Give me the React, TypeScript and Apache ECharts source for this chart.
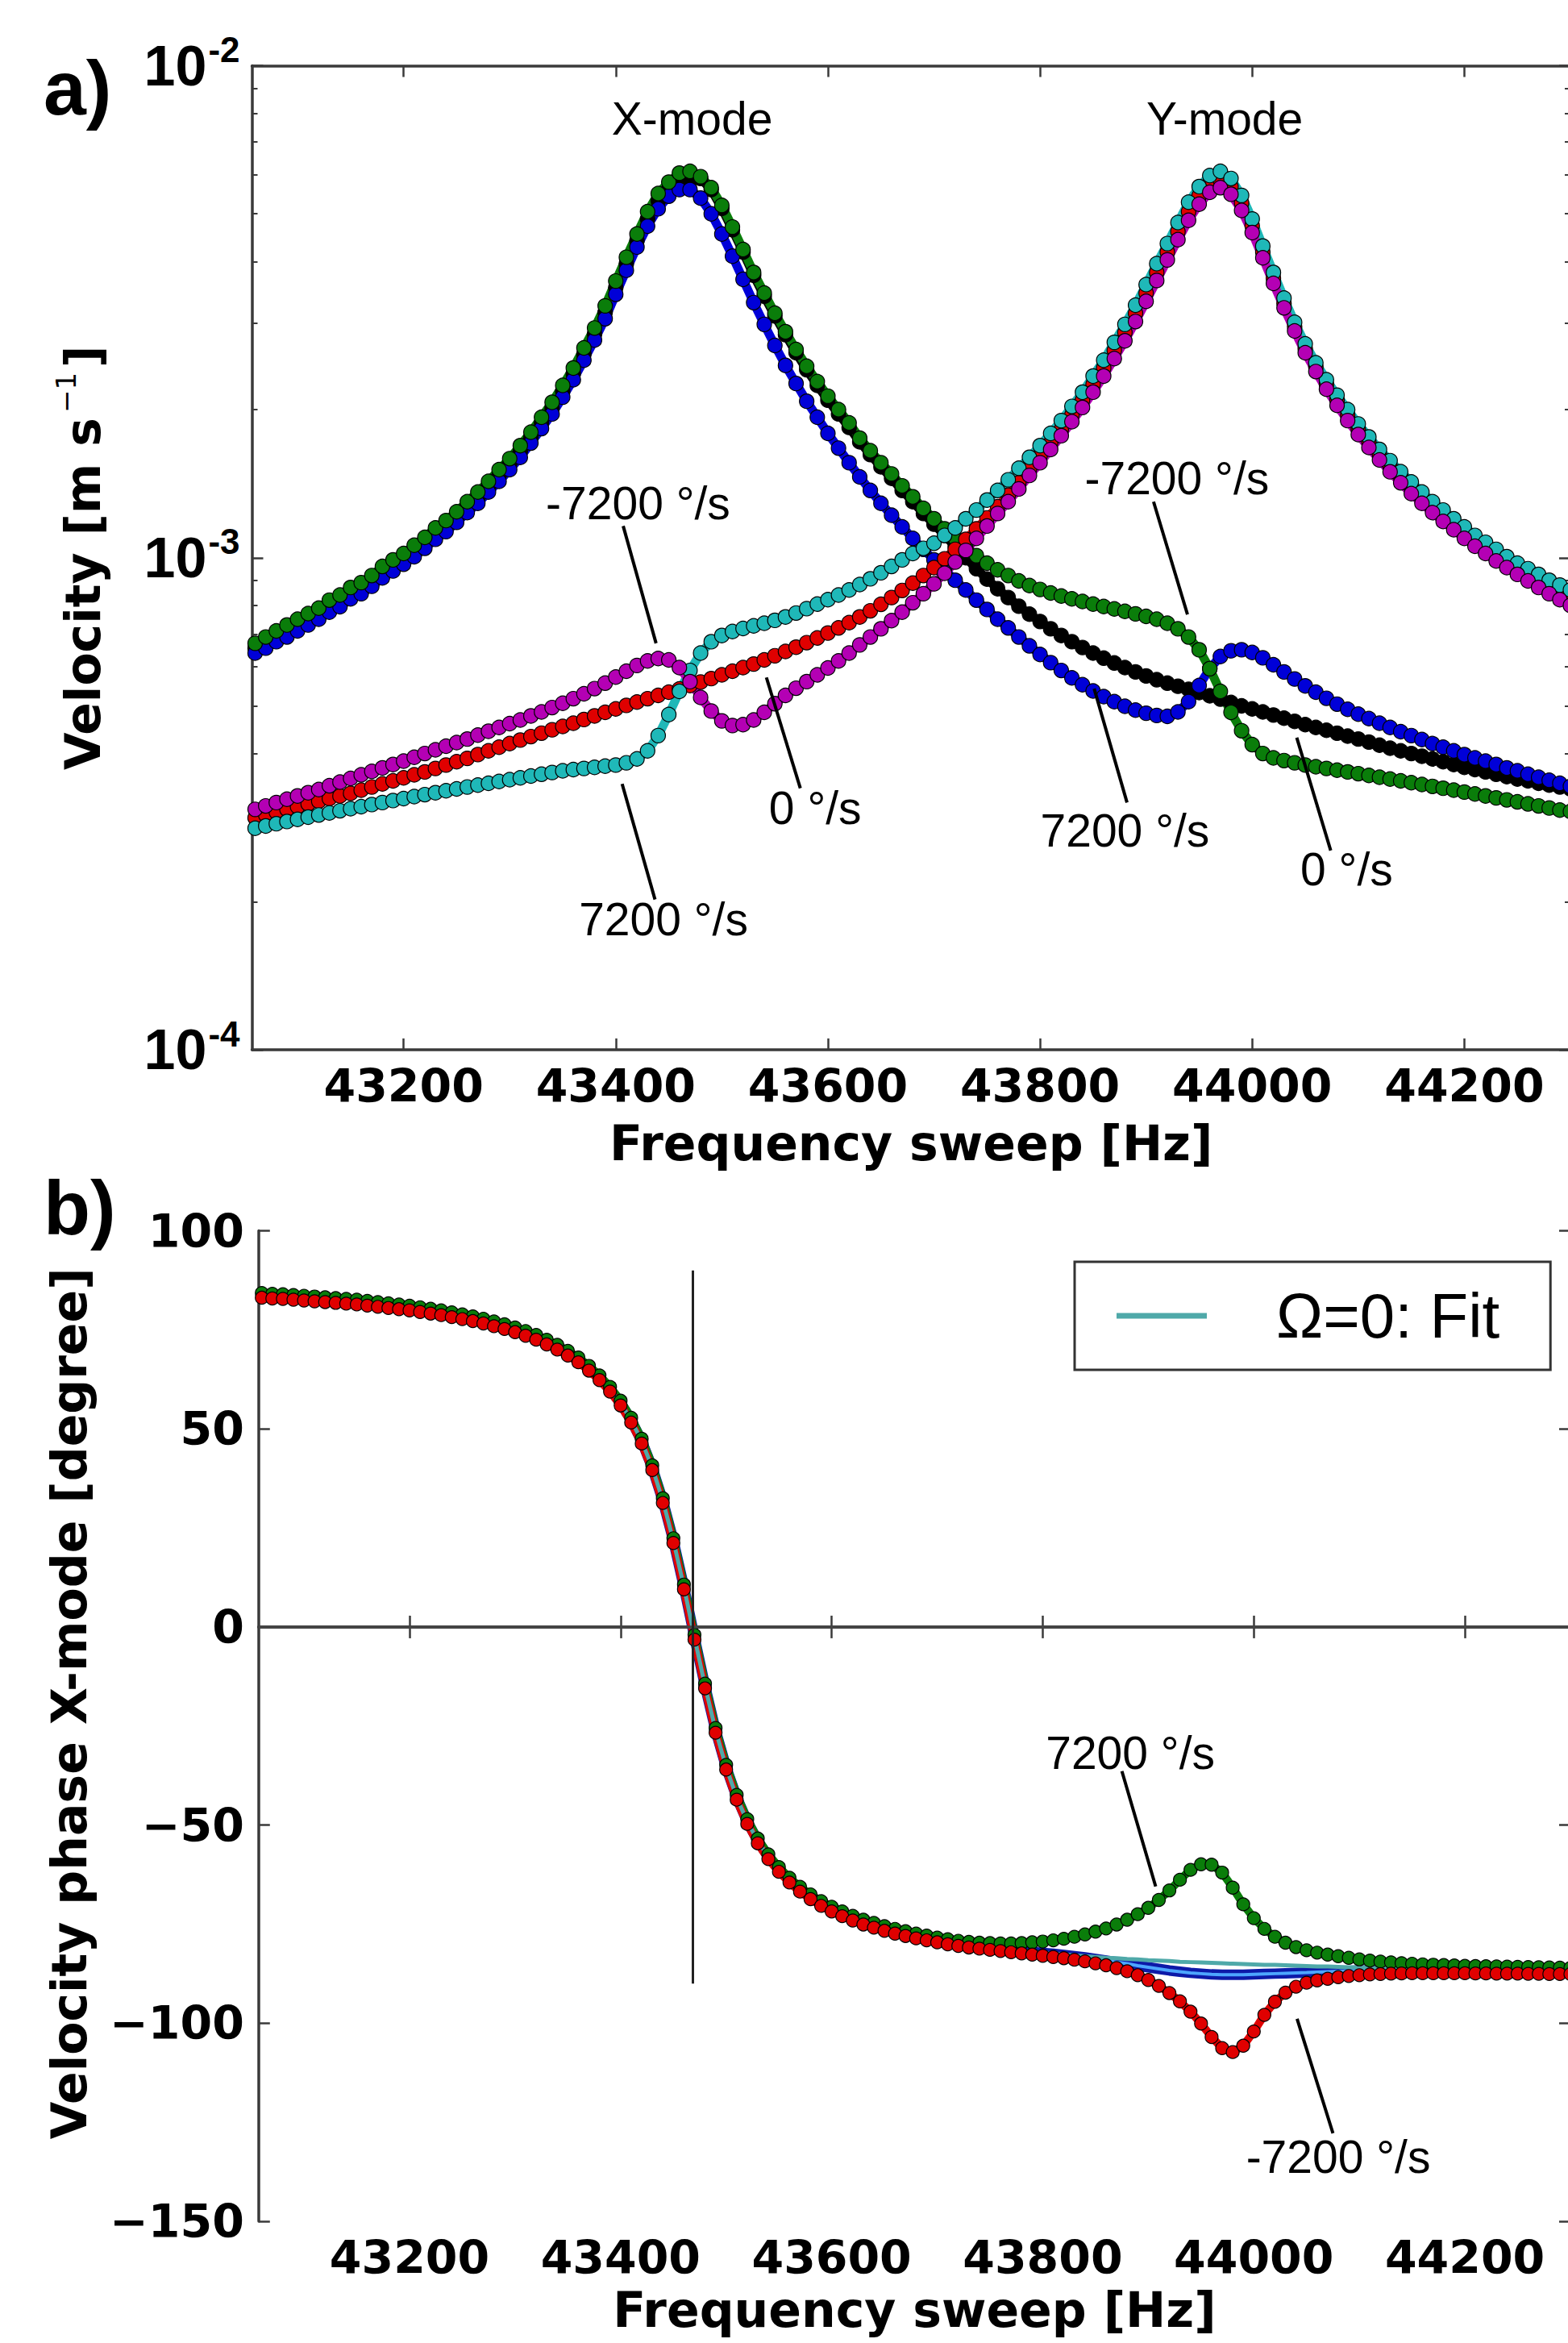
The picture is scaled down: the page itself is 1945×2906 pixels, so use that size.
import React, { useEffect, useRef } from 'react';
import * as echarts from 'echarts';

// ---------- DATA ----------
const FREQ = [
  43060,43070,43080,43090,43100,43110,43120,43130,43140,43150,
  43160,43170,43180,43190,43200,43210,43220,43230,43240,43250,
  43260,43270,43280,43290,43300,43310,43320,43330,43340,43350,
  43360,43370,43380,43390,43400,43410,43420,43430,43440,43450,
  43460,43470,43480,43490,43500,43510,43520,43530,43540,43550,
  43560,43570,43580,43590,43600,43610,43620,43630,43640,43650,
  43660,43670,43680,43690,43700,43710,43720,43730,43740,43750,
  43760,43770,43780,43790,43800,43810,43820,43830,43840,43850,
  43860,43870,43880,43890,43900,43910,43920,43930,43940,43950,
  43960,43970,43980,43990,44000,44010,44020,44030,44040,44050,
  44060,44070,44080,44090,44100,44110,44120,44130,44140,44150,
  44160,44170,44180,44190,44200,44210,44220,44230,44240,44250,
  44260,44270,44280,44290,44300
];

// Panel a: velocity amplitude, in units of 1e-4 m/s
const VEL_UNIT = 1e-4;
const VX_GREEN = [ // X-mode, -7200 °/s
  6.7,6.9,7.1,7.3,7.5,7.7,7.9,8.2,8.4,8.7,
  8.9,9.2,9.6,9.9,10.2,10.6,11.0,11.5,11.9,12.4,
  13.0,13.6,14.3,15.1,15.9,16.9,18.0,19.3,20.7,22.4,
  24.3,26.7,29.3,32.5,36.5,40.8,45.5,50.5,55.0,58.0,
  60.5,61.0,59.5,56.5,52.0,47.0,42.3,38.0,34.5,31.4,
  28.8,26.5,24.5,22.8,21.3,20.0,18.8,17.5,16.5,15.6,
  14.8,14.0,13.3,12.6,12.0,11.45,10.95,10.5,10.1,9.75,
  9.45,9.2,8.97,8.78,8.62,8.48,8.36,8.25,8.15,8.05,
  7.96,7.87,7.78,7.69,7.6,7.5,7.36,7.17,6.9,6.5,
  5.95,5.35,4.85,4.45,4.17,4.0,3.92,3.87,3.83,3.79,
  3.76,3.73,3.7,3.67,3.64,3.61,3.58,3.55,3.52,3.49,
  3.46,3.43,3.4,3.37,3.34,3.31,3.28,3.25,3.22,3.19,
  3.16,3.13,3.1,3.07,3.05
];
const VX_BLUE = [ // X-mode, 7200 °/s
  6.4,6.55,6.75,6.9,7.1,7.3,7.5,7.75,7.95,8.25,
  8.45,8.75,9.1,9.4,9.7,10.05,10.45,10.9,11.3,11.8,
  12.35,12.9,13.6,14.3,15.1,16.0,17.1,18.3,19.6,21.2,
  23.0,25.2,27.7,30.6,34.3,38.4,42.8,47.2,51.2,54.3,
  56.0,56.0,53.8,50.0,45.5,41.0,36.8,33.0,29.8,27.0,
  24.6,22.6,20.8,19.3,17.9,16.7,15.6,14.6,13.7,12.9,
  12.2,11.55,10.95,10.4,9.9,9.45,9.0,8.6,8.2,7.85,
  7.5,7.2,6.9,6.62,6.36,6.12,5.9,5.7,5.52,5.36,
  5.22,5.1,4.99,4.9,4.83,4.78,4.76,4.86,5.1,5.5,
  5.95,6.3,6.47,6.5,6.42,6.26,6.06,5.86,5.67,5.49,
  5.33,5.18,5.04,4.92,4.81,4.71,4.61,4.52,4.43,4.35,
  4.27,4.19,4.12,4.05,3.98,3.92,3.86,3.8,3.74,3.69,
  3.63,3.58,3.53,3.48,3.43
];
const VX_BLACK = [ // X-mode, 0 °/s
  6.55,6.72,6.92,7.1,7.3,7.5,7.7,7.97,8.17,8.47,
  8.67,8.97,9.35,9.65,9.95,10.3,10.7,11.2,11.6,12.1,
  12.7,13.25,13.95,14.7,15.5,16.45,17.55,18.8,20.15,21.8,
  23.65,25.95,28.5,31.55,35.4,39.6,44.1,48.8,53.1,56.1,
  58.2,58.5,59.0,56.0,51.3,46.4,41.8,37.5,34.0,31.0,
  28.4,26.1,24.1,22.4,20.9,19.6,18.4,17.2,16.2,15.3,
  14.5,13.7,13.0,12.3,11.7,11.1,10.55,10.0,9.5,9.05,
  8.65,8.3,7.97,7.68,7.42,7.17,6.95,6.75,6.57,6.4,
  6.25,6.11,5.98,5.86,5.75,5.65,5.56,5.48,5.4,5.32,
  5.24,5.16,5.08,5.0,4.93,4.86,4.79,4.72,4.65,4.58,
  4.52,4.46,4.4,4.34,4.28,4.22,4.16,4.1,4.05,4.0,
  3.95,3.9,3.85,3.8,3.75,3.71,3.67,3.63,3.59,3.55,
  3.52,3.48,3.45,3.42,3.39
];
const VY_RED = [ // Y-mode, 0 °/s
  2.96,3.0,3.04,3.08,3.12,3.16,3.2,3.24,3.28,3.32,
  3.37,3.42,3.47,3.52,3.57,3.62,3.67,3.73,3.79,3.85,
  3.91,3.98,4.05,4.12,4.19,4.26,4.33,4.4,4.47,4.54,
  4.61,4.69,4.77,4.85,4.93,5.01,5.09,5.17,5.25,5.33,
  5.41,5.5,5.59,5.68,5.78,5.88,5.98,6.08,6.2,6.32,
  6.45,6.58,6.72,6.87,7.03,7.2,7.38,7.58,7.8,8.04,
  8.3,8.58,8.88,9.2,9.55,9.95,10.4,10.9,11.45,12.05,
  12.7,13.4,14.2,15.1,16.1,17.1,18.2,19.5,20.9,22.5,
  24.3,26.4,28.7,31.4,34.5,38.0,41.8,46.0,50.5,54.4,
  57.4,58.6,56.8,52.6,47.3,41.8,37.0,32.9,29.5,26.6,
  24.4,22.5,20.9,19.5,18.25,17.2,16.2,15.35,14.6,13.9,
  13.25,12.7,12.2,11.7,11.25,10.85,10.5,10.15,9.8,9.5,
  9.23,8.97,8.72,8.5,8.3
];
const VY_CYAN = [ // Y-mode, 7200 °/s
  2.82,2.85,2.88,2.91,2.94,2.97,3.0,3.03,3.06,3.09,
  3.12,3.15,3.18,3.21,3.24,3.27,3.3,3.33,3.36,3.39,
  3.42,3.45,3.48,3.51,3.54,3.57,3.6,3.63,3.66,3.69,
  3.71,3.73,3.75,3.77,3.79,3.83,3.9,4.05,4.35,4.8,
  5.35,5.9,6.4,6.75,6.95,7.08,7.18,7.27,7.36,7.46,
  7.58,7.72,7.88,8.05,8.22,8.4,8.6,8.82,9.06,9.32,
  9.6,9.9,10.2,10.45,10.7,11.1,11.5,12.0,12.5,13.1,
  13.7,14.4,15.2,16.0,16.9,17.9,19.0,20.3,21.7,23.4,
  25.2,27.4,29.8,32.6,35.9,39.6,43.5,48.0,52.8,56.8,
  59.8,61.0,59.0,54.5,48.8,43.0,38.0,33.7,30.1,27.2,
  24.9,23.0,21.4,20.0,18.7,17.6,16.6,15.75,14.96,14.26,
  13.6,13.0,12.5,12.0,11.55,11.1,10.75,10.4,10.05,9.75,
  9.5,9.25,9.0,8.8,8.6
];
const VY_MAGENTA = [ // Y-mode, -7200 °/s
  3.08,3.13,3.18,3.23,3.28,3.33,3.38,3.44,3.5,3.56,
  3.62,3.68,3.74,3.8,3.86,3.93,4.0,4.07,4.14,4.21,
  4.28,4.36,4.44,4.52,4.6,4.68,4.77,4.86,4.96,5.06,
  5.17,5.29,5.42,5.56,5.72,5.88,6.04,6.17,6.24,6.2,
  5.98,5.6,5.2,4.88,4.66,4.56,4.58,4.68,4.85,5.05,
  5.25,5.43,5.6,5.78,5.97,6.17,6.4,6.65,6.9,7.17,
  7.45,7.75,8.1,8.45,8.85,9.3,9.8,10.35,10.95,11.6,
  12.3,13.0,13.8,14.7,15.6,16.6,17.7,18.9,20.2,21.7,
  23.4,25.4,27.6,30.2,33.2,36.6,40.3,44.3,48.5,52.3,
  55.3,56.5,54.8,50.8,45.8,40.7,36.1,32.2,28.9,26.1,
  23.9,22.0,20.4,19.0,17.8,16.75,15.8,14.95,14.2,13.5,
  12.9,12.35,11.85,11.4,10.95,10.55,10.2,9.85,9.55,9.25,
  8.97,8.7,8.45,8.22,8.0
];

// Panel b: X-mode velocity phase, degrees
const PH_FIT = [
  83.7,83.5,83.4,83.2,83.0,82.8,82.6,82.4,82.2,82.0,
  81.7,81.4,81.1,80.8,80.5,80.1,79.7,79.3,78.8,78.3,
  77.8,77.2,76.5,75.8,75.0,74.1,73.1,71.9,70.6,69.1,
  67.4,65.3,62.9,60.0,56.5,52.2,46.9,40.2,31.9,21.8,
  10.1,-2.6,-14.9,-26.1,-35.4,-43.0,-49.1,-54.0,-58.0,-61.2,
  -63.9,-66.2,-68.1,-69.8,-71.2,-72.4,-73.5,-74.5,-75.3,-76.1,
  -76.8,-77.4,-78.0,-78.5,-79.0,-79.5,-79.9,-80.3,-80.6,-80.9,
  -81.2,-81.5,-81.8,-82.0,-82.3,-82.5,-82.7,-82.9,-83.1,-83.3,
  -83.5,-83.6,-83.8,-83.9,-84.1,-84.2,-84.3,-84.5,-84.6,-84.7,
  -84.8,-84.9,-85.0,-85.1,-85.2,-85.3,-85.3,-85.4,-85.5,-85.6,
  -85.7,-85.7,-85.8,-85.9,-85.9,-86.0,-86.1,-86.1,-86.2,-86.2,
  -86.3,-86.3,-86.4,-86.4,-86.5,-86.5,-86.6,-86.6,-86.7,-86.7,
  -86.8,-86.8,-86.8,-86.9,-86.9
];
const PH_BLUE = [ // 0 °/s
  83.7,83.5,83.4,83.2,83.0,82.8,82.6,82.4,82.2,82.0,
  81.7,81.4,81.1,80.8,80.5,80.1,79.7,79.3,78.8,78.3,
  77.8,77.2,76.5,75.8,75.0,74.1,73.1,71.9,70.6,69.1,
  67.4,65.3,62.9,60.0,56.5,52.2,46.9,40.2,31.9,21.8,
  10.1,-2.6,-14.9,-26.1,-35.4,-43.0,-49.1,-54.0,-58.0,-61.2,
  -63.9,-66.2,-68.1,-69.8,-71.2,-72.4,-73.5,-74.5,-75.3,-76.1,
  -76.8,-77.4,-78.0,-78.5,-79.0,-79.5,-79.9,-80.3,-80.6,-80.9,
  -81.2,-81.5,-81.8,-82.0,-82.3,-82.5,-82.8,-83.1,-83.4,-83.8,
  -84.2,-84.6,-85.0,-85.5,-85.9,-86.3,-86.7,-87.0,-87.3,-87.5,
  -87.7,-87.8,-87.8,-87.8,-87.7,-87.6,-87.5,-87.4,-87.3,-87.2,
  -87.1,-87.0,-86.9,-86.8,-86.7,-86.7,-86.6,-86.6,-86.6,-86.6,
  -86.6,-86.6,-86.6,-86.6,-86.6,-86.6,-86.7,-86.7,-86.7,-86.8,
  -86.8,-86.8,-86.9,-86.9,-86.9
];
const PH_GREEN = [ // 7200 °/s
  84.3,84.1,84.0,83.8,83.6,83.4,83.2,83.0,82.8,82.6,
  82.3,82.0,81.7,81.4,81.1,80.7,80.3,79.9,79.4,78.9,
  78.4,77.8,77.1,76.4,75.6,74.7,73.7,72.5,71.2,69.7,
  68.0,65.9,63.5,60.6,57.1,52.8,47.5,40.8,32.5,22.4,
  10.7,-2.0,-14.3,-25.5,-34.8,-42.4,-48.5,-53.4,-57.4,-60.6,
  -63.3,-65.6,-67.5,-69.2,-70.6,-71.8,-72.9,-73.9,-74.7,-75.5,
  -76.2,-76.8,-77.4,-77.9,-78.4,-78.8,-79.2,-79.5,-79.7,-79.8,
  -79.9,-79.9,-79.8,-79.6,-79.4,-79.1,-78.7,-78.2,-77.6,-76.9,
  -76.1,-75.1,-73.9,-72.5,-70.9,-68.9,-66.5,-63.8,-61.3,-59.9,
  -60.0,-62.0,-65.8,-70.0,-73.5,-76.2,-78.2,-79.7,-80.8,-81.6,
  -82.2,-82.7,-83.1,-83.5,-83.9,-84.2,-84.45,-84.65,-84.85,-85.0,
  -85.15,-85.25,-85.35,-85.45,-85.55,-85.6,-85.65,-85.7,-85.75,-85.8,
  -85.85,-85.9,-85.95,-86.0,-86.05
];
const PH_RED = [ // -7200 °/s
  83.1,82.9,82.8,82.6,82.4,82.2,82.0,81.8,81.6,81.4,
  81.1,80.8,80.5,80.2,79.9,79.5,79.1,78.7,78.2,77.7,
  77.2,76.6,75.9,75.2,74.4,73.5,72.5,71.3,70.0,68.5,
  66.8,64.7,62.3,59.4,55.9,51.6,46.3,39.6,31.3,21.2,
  9.5,-3.2,-15.5,-26.7,-36.0,-43.6,-49.7,-54.6,-58.6,-61.8,
  -64.5,-66.8,-68.7,-70.4,-71.8,-73.0,-74.1,-75.1,-75.9,-76.7,
  -77.4,-78.0,-78.6,-79.1,-79.6,-80.1,-80.5,-80.9,-81.2,-81.5,
  -81.8,-82.1,-82.4,-82.7,-83.0,-83.3,-83.6,-84.0,-84.4,-84.9,
  -85.4,-86.1,-86.9,-87.9,-89.1,-90.6,-92.4,-94.5,-97.1,-100.1,
  -103.5,-106.3,-107.3,-105.7,-102.1,-97.9,-94.6,-92.3,-90.8,-89.8,
  -89.2,-88.8,-88.4,-88.1,-87.9,-87.7,-87.6,-87.5,-87.45,-87.4,
  -87.4,-87.4,-87.4,-87.4,-87.4,-87.45,-87.45,-87.5,-87.5,-87.5,
  -87.55,-87.55,-87.6,-87.6,-87.6
];

// axes
const X_MIN = 43057;
const X_MAX = 44300;
const X_TICKS = [43200, 43400, 43600, 43800, 44000, 44200];
const VEL_MIN = 1e-4;
const VEL_MAX = 1e-2;
const VEL_MAJOR = [1e-4, 1e-3, 1e-2];
const VEL_MINOR = [2e-4,3e-4,4e-4,5e-4,6e-4,7e-4,8e-4,9e-4,2e-3,3e-3,4e-3,5e-3,6e-3,7e-3,8e-3,9e-3];
const PH_MIN = -150;
const PH_MAX = 100;
const PH_STEP = 50;
const F0_LINE = [[43468, 90], [43468, -90]];

// annotations
const ANNOT_A_TEXT = ['X-mode', 'Y-mode', '-7200 °/s', '7200 °/s', '0 °/s', '-7200 °/s', '7200 °/s', '0 °/s'];
const ANNOT_A_AT = [[43472, 7.8e-3], [43974, 7.8e-3], [43421, 1.29e-3], [43445, 1.84e-4], [43588, 3.1e-4], [43929, 1.45e-3], [43880, 2.79e-4], [44089, 2.33e-4]];
const ANNOT_A_LINE = [null, null,
  [[43407, 1.16e-3], [43438, 6.7e-4]],
  [[43406, 3.47e-4], [43437, 2.02e-4]],
  [[43542, 5.71e-4], [43574, 3.4e-4]],
  [[43907, 1.3e-3], [43939, 7.67e-4]],
  [[43851, 5.42e-4], [43882, 3.18e-4]],
  [[44042, 4.31e-4], [44074, 2.54e-4]]];
const ANNOT_B_TEXT = ['7200 °/s', '-7200 °/s'];
const ANNOT_B_AT = [[43883, -31.8], [44080, -133.7]];
const ANNOT_B_LINE = [[[43875, -36.4], [43907, -65.5]], [[44041, -98.9], [44075, -127.8]]];

// ---------- STYLE ----------
const AXIS_COLOR = '#3a3a3a';
const TICK_FONT = 'DejaVu Sans';
const ANN_FONT = 'Liberation Sans';

const axisLineStyle = { show: true, lineStyle: { color: AXIS_COLOR, width: 3.5 } };
const noLine = { show: false };

function velSeries(name: string, vals: number[], color: string) {
  return {
    name, type: 'line', xAxisIndex: 0, yAxisIndex: 0,
    data: FREQ.map((f, i) => [f, vals[i] * VEL_UNIT]),
    symbol: 'circle', symbolSize: 18, showSymbol: true,
    itemStyle: { color, borderColor: '#000', borderWidth: 1.2 },
    lineStyle: { color, width: 11 },
    emphasis: { disabled: true }, silent: true, clip: true,
  };
}
function phaseSeries(name: string, vals: number[], color: string, marker: boolean, width: number, extra: any = {}) {
  return {
    name, type: 'line', xAxisIndex: 2, yAxisIndex: 4,
    data: FREQ.map((f, i) => [f, vals[i]]),
    symbol: 'circle', symbolSize: marker ? 16 : 0, showSymbol: marker,
    itemStyle: { color, borderColor: '#000', borderWidth: marker ? 1.2 : 0 },
    lineStyle: { color, width },
    emphasis: { disabled: true }, silent: true, clip: true,
    ...extra,
  };
}

export default function App() {
  const ref = useRef<HTMLDivElement>(null);
  useEffect(() => {
    const chart = echarts.init(ref.current!, null, { renderer: 'svg' });
    const xTickCommon = {
      type: 'value', min: X_MIN, max: X_MAX,
      splitLine: { show: false },
      axisTick: { show: true, inside: true, length: 14, customValues: X_TICKS, lineStyle: { color: AXIS_COLOR, width: 2.5 } },
    };
    const xLabel = {
      customValues: X_TICKS, formatter: (v: number) => String(v),
      fontSize: 57, fontWeight: 'bold', fontFamily: TICK_FONT, color: '#000', margin: 16,
    };
    const xName = (gap: number) => ({
      name: 'Frequency sweep [Hz]', nameLocation: 'middle', nameGap: gap,
      nameTextStyle: { fontSize: 60, fontWeight: 'bold', fontFamily: TICK_FONT, color: '#000' },
    });
    const logCommon = { type: 'log', logBase: 10, min: VEL_MIN, max: VEL_MAX, splitLine: { show: false } };

    const option: any = {
      animation: false,
      backgroundColor: '#ffffff',
      grid: [
        { left: 312.5, top: 81.5, width: 1635.5, height: 1220.5 },
        { left: 320.8, top: 1526.5, width: 1627.2, height: 1228.5 },
      ],
      xAxis: [
        { ...xTickCommon, gridIndex: 0, position: 'bottom', axisLine: axisLineStyle, axisLabel: xLabel, ...xName(86) },
        { ...xTickCommon, gridIndex: 0, position: 'top', axisLine: axisLineStyle, axisLabel: { show: false } },
        { ...xTickCommon, gridIndex: 1, position: 'bottom', axisLine: axisLineStyle, axisLabel: xLabel, ...xName(80) },
        { ...xTickCommon, gridIndex: 1, position: 'top', axisLine: axisLineStyle, axisLabel: { show: false } },
      ],
      yAxis: [
        {
          ...logCommon, gridIndex: 0, position: 'left', axisLine: axisLineStyle,
          axisTick: { show: true, inside: true, length: 14, customValues: VEL_MAJOR, lineStyle: { color: AXIS_COLOR, width: 2.5 } },
          axisLabel: {
            customValues: VEL_MAJOR, margin: 15, color: '#000',
            formatter: (v: number) => `{b|10}{s|${Math.round(Math.log10(v))}}`,
            rich: {
              b: { fontSize: 70, fontWeight: 'bold', fontFamily: ANN_FONT, color: '#000', lineHeight: 84 },
              s: { fontSize: 44, fontWeight: 'bold', fontFamily: ANN_FONT, color: '#000', verticalAlign: 'top', lineHeight: 44, padding: [0, 0, 0, 2] },
            },
          },
          name: 'Velocity [m s{sup|\u22121}]', nameLocation: 'middle', nameRotate: 90, nameGap: 172,
          nameTextStyle: {
            fontSize: 60, fontWeight: 'bold', fontFamily: TICK_FONT, color: '#000', lineHeight: 76,
            rich: { sup: { fontSize: 34, fontWeight: 'normal', fontFamily: TICK_FONT, color: '#000', verticalAlign: 'top', lineHeight: 34, padding: [0, 6, 0, 6] } },
          },
        },
        {
          ...logCommon, gridIndex: 0, position: 'left', axisLine: noLine,
          axisTick: { show: true, inside: true, length: 7, customValues: VEL_MINOR, lineStyle: { color: AXIS_COLOR, width: 2 } },
          axisLabel: { show: false },
        },
        {
          ...logCommon, gridIndex: 0, position: 'right', axisLine: axisLineStyle,
          axisTick: { show: true, inside: true, length: 14, customValues: VEL_MAJOR, lineStyle: { color: AXIS_COLOR, width: 2.5 } },
          axisLabel: { show: false },
        },
        {
          ...logCommon, gridIndex: 0, position: 'right', axisLine: noLine,
          axisTick: { show: true, inside: true, length: 7, customValues: VEL_MINOR, lineStyle: { color: AXIS_COLOR, width: 2 } },
          axisLabel: { show: false },
        },
        {
          type: 'value', gridIndex: 1, position: 'left', min: PH_MIN, max: PH_MAX, interval: PH_STEP,
          splitLine: { show: false }, axisLine: axisLineStyle,
          axisTick: { show: true, inside: true, length: 14, lineStyle: { color: AXIS_COLOR, width: 2.5 } },
          axisLabel: {
            margin: 18, fontSize: 57, fontWeight: 'bold', fontFamily: TICK_FONT, color: '#000',
            showMinLabel: true, showMaxLabel: true,
            formatter: (v: number) => (v < 0 ? '\u2212' + Math.abs(v) : String(v)),
          },
          name: 'Velocity phase X-mode [degree]', nameLocation: 'middle', nameRotate: 90, nameGap: 205,
          nameTextStyle: { fontSize: 60, fontWeight: 'bold', fontFamily: TICK_FONT, color: '#000', padding: [0, 0, 0, 56] },
        },
        {
          type: 'value', gridIndex: 1, position: 'right', min: PH_MIN, max: PH_MAX, interval: PH_STEP,
          splitLine: { show: false }, axisLine: axisLineStyle,
          axisTick: { show: true, inside: true, length: 14, lineStyle: { color: AXIS_COLOR, width: 2.5 } },
          axisLabel: { show: false },
        },
      ],
      legend: {
        show: true,
        data: [{ name: '\u03A9=0: Fit', icon: 'rect' }],
        left: 1333, top: 1565, orient: 'horizontal',
        itemWidth: 112, itemHeight: 7,
        padding: [28, 63, 28, 52],
        backgroundColor: '#ffffff', borderColor: '#333', borderWidth: 3,
        textStyle: { fontSize: 78, fontFamily: ANN_FONT, color: '#000', padding: [0, 0, 0, 81] },
        selectedMode: false,
      },
      series: [
        velSeries('X-mode 0 °/s', VX_BLACK, '#000000'),
        velSeries('X-mode 7200 °/s', VX_BLUE, '#0000d8'),
        velSeries('X-mode -7200 °/s', VX_GREEN, '#0a7d0a'),
        velSeries('Y-mode 0 °/s', VY_RED, '#e00000'),
        velSeries('Y-mode 7200 °/s', VY_CYAN, '#1fb8b8'),
        velSeries('Y-mode -7200 °/s', VY_MAGENTA, '#b400b4'),
        phaseSeries('Phase 0 °/s', PH_BLUE, '#0d1aa8', false, 13, {
          markLine: {
            silent: true, symbol: ['none', 'none'], label: { show: false },
            lineStyle: { color: '#444', width: 3.5, type: 'solid' },
            data: [
              { yAxis: 0 },
              [{ coord: F0_LINE[0] }, { coord: F0_LINE[1], lineStyle: { color: '#222', width: 3 } }],
            ],
          },
        }),
        phaseSeries('Phase 0 °/s (light)', PH_BLUE, '#4da6ff', false, 4),
        phaseSeries('Phase 7200 °/s', PH_GREEN, '#0a7d0a', true, 10),
        phaseSeries('Phase -7200 °/s', PH_RED, '#e00000', true, 10),
        phaseSeries('\u03A9=0: Fit', PH_FIT, '#4fa9a9', false, 5),
      ],
    };
    chart.setOption(option);

    const toA = (p: number[]) => chart.convertToPixel({ xAxisIndex: 0, yAxisIndex: 0 }, p) as number[];
    const toB = (p: number[]) => chart.convertToPixel({ xAxisIndex: 2, yAxisIndex: 4 }, p) as number[];
    const g: any[] = [];
    const addText = (text: string, pt: number[], size: number, weight = 'normal', align = 'center') => {
      g.push({
        type: 'text', x: pt[0], y: pt[1], silent: true, z: 100,
        style: {
          text, fill: '#000', fontSize: size, fontWeight: weight, fontFamily: ANN_FONT,
          align, verticalAlign: 'middle', textAlign: align, textVerticalAlign: 'middle',
        },
      });
    };
    const addLine = (a: number[], b: number[]) => {
      g.push({ type: 'line', silent: true, z: 100, shape: { x1: a[0], y1: a[1], x2: b[0], y2: b[1] }, style: { stroke: '#000', lineWidth: 4 } });
    };
    ANNOT_A_TEXT.forEach((t, i) => {
      addText(t, toA(ANNOT_A_AT[i]), 57);
      const ln = ANNOT_A_LINE[i];
      if (ln) addLine(toA(ln[0]), toA(ln[1]));
    });
    ANNOT_B_TEXT.forEach((t, i) => {
      addText(t, toB(ANNOT_B_AT[i]), 57);
      const ln = ANNOT_B_LINE[i];
      addLine(toB(ln[0]), toB(ln[1]));
    });
    addText('a)', [54, 109], 95, 'bold', 'left');
    addText('b)', [54, 1498], 95, 'bold', 'left');
    chart.setOption({ graphic: g });

    return () => chart.dispose();
  }, []);
  return (
    <div style={{ position: 'absolute', left: 0, top: 0, width: 1945, height: 2906, overflow: 'hidden', background: '#fff' }}>
      <div ref={ref} style={{ width: 1965, height: 2906 }} />
    </div>
  );
}
